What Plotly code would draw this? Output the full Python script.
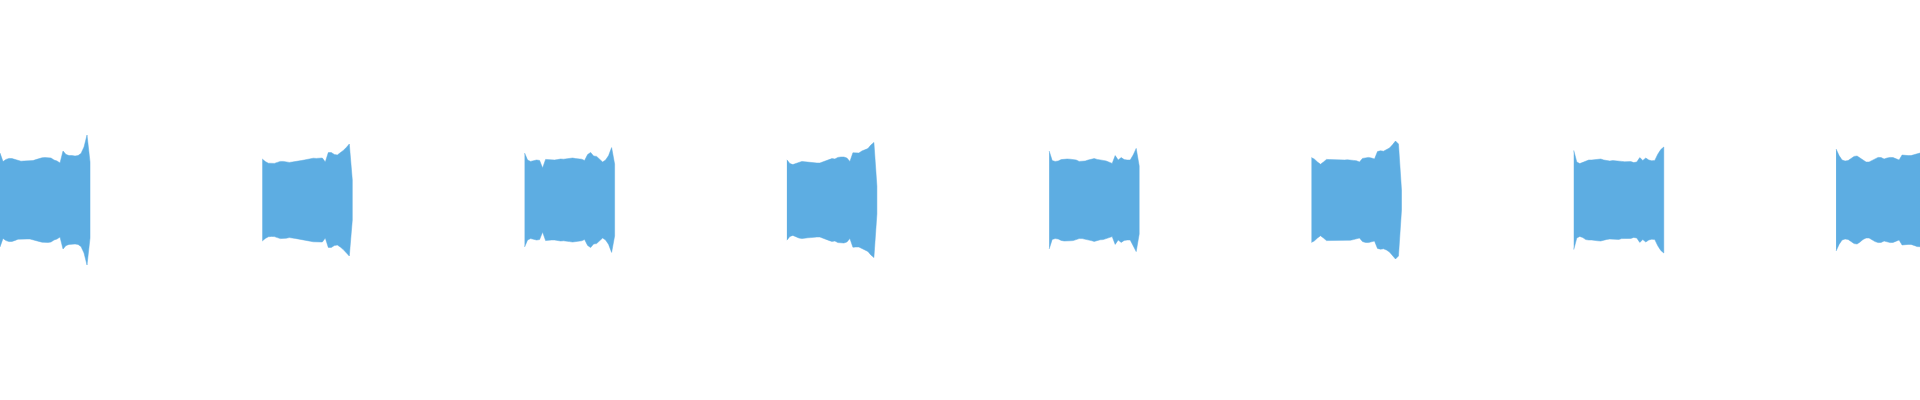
import plotly.graph_objects as go

# eight short clips, one per second; peak amplitude sampled every ~11.4 ms
clip_starts = [0, 1, 2, 3, 4, 5, 6, 7]
sample_step = 0.01144

clip_1 = [0.235, 0.192, 0.203, 0.208, 0.207, 0.202, 0.196, 0.194, 0.195, 0.195, 0.195,
          0.197, 0.202, 0.207, 0.211, 0.212, 0.212, 0.21, 0.2, 0.195, 0.185, 0.245,
          0.228, 0.222, 0.222, 0.22, 0.222, 0.233, 0.265, 0.325, 0.19]
clip_2 = [0.205, 0.192, 0.184, 0.182, 0.183, 0.188, 0.193, 0.193, 0.191, 0.188, 0.19,
          0.192, 0.192, 0.197, 0.2, 0.203, 0.206, 0.209, 0.208, 0.21, 0.21, 0.19,
          0.237, 0.237, 0.228, 0.225, 0.235, 0.248, 0.262, 0.28, 0.1]
clip_3 = [0.235, 0.2, 0.193, 0.195, 0.2, 0.198, 0.16, 0.203, 0.202, 0.2, 0.2,
          0.202, 0.205, 0.204, 0.205, 0.208, 0.21, 0.207, 0.206, 0.204, 0.198, 0.227,
          0.238, 0.22, 0.218, 0.205, 0.19, 0.2, 0.222, 0.262, 0.18]
clip_4 = [0.201, 0.182, 0.177, 0.182, 0.19, 0.193, 0.191, 0.189, 0.188, 0.185, 0.185,
          0.185, 0.19, 0.197, 0.202, 0.207, 0.205, 0.213, 0.215, 0.215, 0.21, 0.192,
          0.236, 0.235, 0.235, 0.245, 0.25, 0.257, 0.275, 0.288, 0.07]
clip_5 = [0.245, 0.197, 0.193, 0.195, 0.202, 0.205, 0.205, 0.204, 0.203, 0.2, 0.193,
          0.193, 0.195, 0.2, 0.203, 0.207, 0.203, 0.199, 0.198, 0.195, 0.188, 0.183,
          0.222, 0.2, 0.212, 0.202, 0.2, 0.2, 0.225, 0.258, 0.17]
clip_6 = [0.212, 0.204, 0.19, 0.179, 0.19, 0.203, 0.202, 0.201, 0.2, 0.2, 0.2,
          0.2, 0.201, 0.201, 0.198, 0.196, 0.19, 0.208, 0.212, 0.213, 0.21, 0.205,
          0.242, 0.246, 0.244, 0.25, 0.26, 0.276, 0.295, 0.28, 0.05]
clip_7 = [0.248, 0.19, 0.182, 0.188, 0.198, 0.2, 0.2, 0.201, 0.204, 0.205, 0.2,
          0.197, 0.195, 0.197, 0.196, 0.197, 0.193, 0.191, 0.192, 0.192, 0.187, 0.19,
          0.212, 0.198, 0.21, 0.2, 0.196, 0.198, 0.229, 0.252, 0.265]
clip_8 = [0.255, 0.222, 0.2, 0.195, 0.197, 0.208, 0.218, 0.22, 0.21, 0.197, 0.19,
          0.19, 0.198, 0.208, 0.213, 0.212, 0.205, 0.21, 0.213, 0.212, 0.207, 0.2,
          0.225, 0.222, 0.222, 0.222, 0.227, 0.233, 0.235, 0.235, 0.235]

clips = [clip_1, clip_2, clip_3, clip_4, clip_5, clip_6, clip_7, clip_8]
wave_color = '#5dade2'

fig = go.Figure()
for start, amp in zip(clip_starts, clips):
    t = [start + i * sample_step for i in range(len(amp))]
    # envelope: top edge forwards, bottom edge backwards
    xs = t + t[::-1]
    ys = amp + [-a for a in amp[::-1]]
    fig.add_trace(go.Scatter(x=xs, y=ys, mode='lines', fill='toself',
                             fillcolor=wave_color,
                             line=dict(color=wave_color, width=0.5),
                             hoverinfo='skip', showlegend=False))

fig.update_xaxes(range=[0, 7.32], visible=False)
fig.update_yaxes(range=[-1, 1], visible=False)
fig.update_layout(width=1920, height=400, margin=dict(l=0, r=0, t=0, b=0),
                  plot_bgcolor='white', paper_bgcolor='white')

# page body has an 8px default margin, drop it so the plot sits at 0,0
fig.write_html("out.html", config={'displayModeBar': False},
               post_script="document.body.style.margin='0px';")
